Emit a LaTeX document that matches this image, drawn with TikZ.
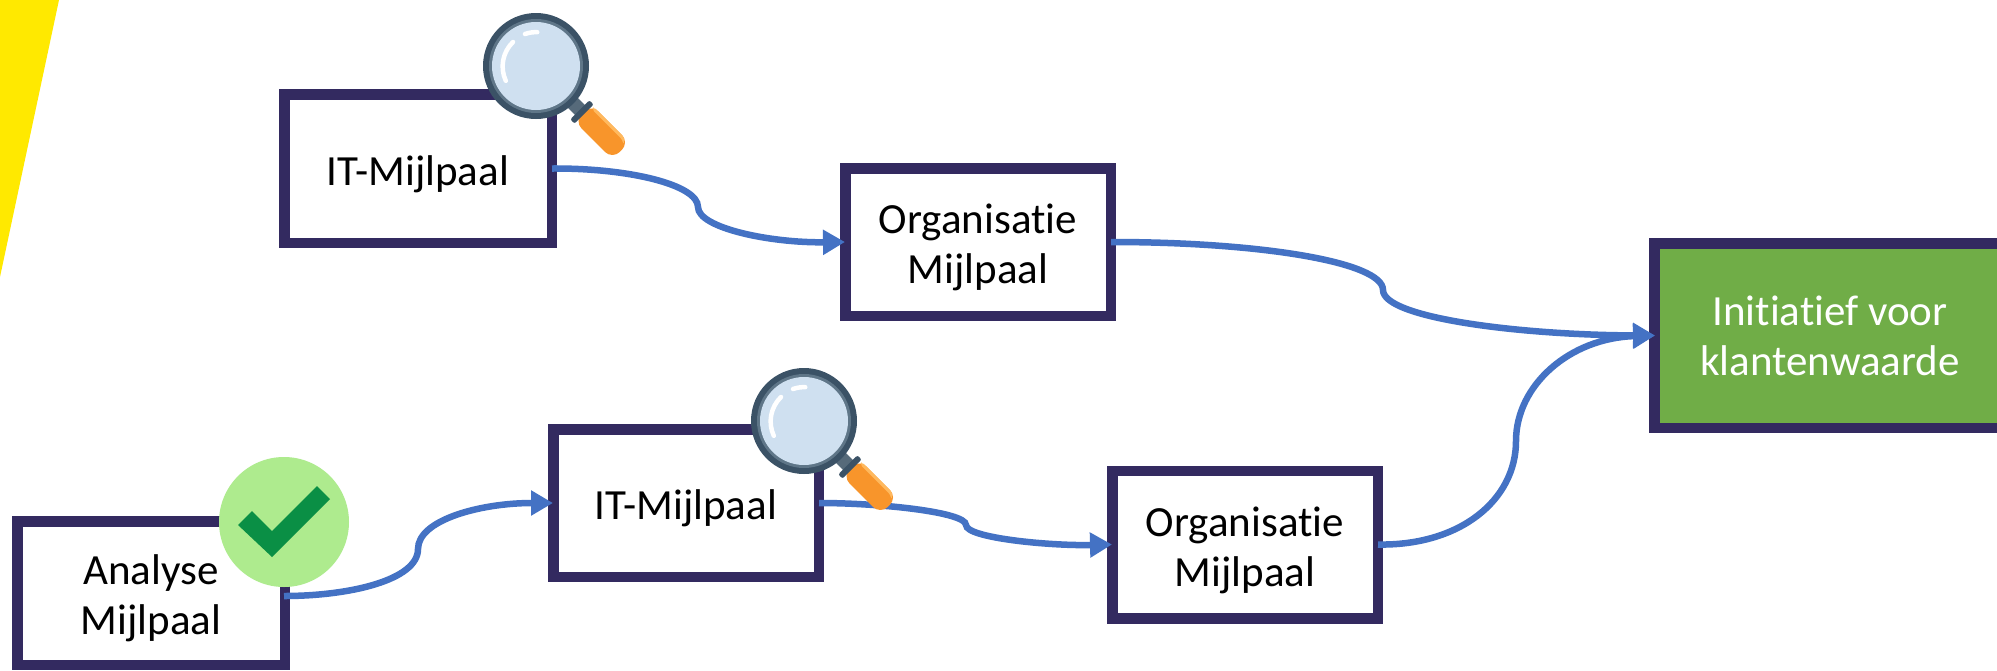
\documentclass[tikz,border=0pt]{standalone}
\usepackage{fontspec}
\setmainfont{Carlito}[Ligatures=NoCommon]
\usetikzlibrary{arrows.meta}
\definecolor{boxline}{HTML}{332A60}
\definecolor{flow}{HTML}{4472C4}
\definecolor{goal}{HTML}{70AD47}
\definecolor{banner}{HTML}{FFE900}
\definecolor{lensring}{HTML}{3B5266}
\definecolor{lensedge}{HTML}{5F7688}
\definecolor{glass}{HTML}{CFE0F0}
\definecolor{grip}{HTML}{F8952B}
\definecolor{griplight}{HTML}{FFB95E}
\definecolor{neck}{HTML}{566A7A}
\definecolor{okfill}{HTML}{AEEB8E}
\definecolor{okmark}{HTML}{0A8F45}
\newcommand{\lead}{\rule{0pt}{41pt}}
\tikzset{
  x=1pt,y=-1pt,
  stonebox/.style={draw=boxline,line width=10.5pt,fill=white,inner sep=0pt,align=center,
    font=\fontsize{43}{50}\selectfont,text=black},
  goalbox/.style={draw=boxline,line width=10.5pt,fill=goal,inner sep=0pt,align=center,
    text=white,font=\fontsize{43}{50}\selectfont},
  link/.style={draw=flow,line width=6.5pt},
  linkhead/.style={link,-{Triangle[length=22pt,width=24pt]}}
}
\newcommand{\lens}[2]{%
  \begin{scope}[shift={(#1,#2)}]
    \begin{scope}[rotate=-45]
      \fill[neck] (48,-7) rectangle (66,7);
      \fill[grip,rounded corners=10.5pt] (66,-12) -- (120,-12) -- (120,12) -- (66,12) -- cycle;
      \fill[griplight,rounded corners=3pt] (70,-12) -- (113,-12) -- (118,-6) -- (113,-9) -- (70,-9) -- cycle;
      \fill[lensring,rounded corners=2pt] (62,-13.5) rectangle (68,13.5);
    \end{scope}
    \fill[lensring] (0,0) circle[radius=53pt];
    \fill[lensedge] (0,0) circle[radius=47pt];
    \fill[glass] (0,0) circle[radius=44pt];
    \draw[white,line width=4.5pt,line cap=round] (-23,-24) arc[start angle=134,end angle=205,radius=34pt];
    \draw[white,line width=4.5pt,line cap=round] (-11,-32) arc[start angle=109,end angle=88,radius=34pt];
  \end{scope}}
\begin{document}
\begin{tikzpicture}
\useasboundingbox (0,0) rectangle (1997,670);
\clip (0,0) rectangle (1997,670);
\fill[white] (0,0) rectangle (1997,670);
\fill[banner] (0,0) -- (59,0) -- (0,277) -- cycle;

\node[stonebox,minimum width=267.5pt,minimum height=148.5pt] (it1) at (418,168.5) {\lead IT-Mijlpaal};
\node[stonebox,minimum width=265.5pt,minimum height=147.5pt] (org1) at (978,242) {\lead Organisatie\\Mijlpaal};
\node[goalbox,minimum width=351.5pt,minimum height=184.5pt] (init) at (1830,335.5) {Initiatief voor\\klantenwaarde};
\node[stonebox,minimum width=267.5pt,minimum height=143.5pt] (ana) at (151,593) {\lead Analyse\\Mijlpaal};
\node[stonebox,minimum width=265.5pt,minimum height=147.5pt] (it2) at (686,503) {\lead IT-Mijlpaal};
\node[stonebox,minimum width=265.5pt,minimum height=147.5pt] (org2) at (1245,544.5) {\lead Organisatie\\Mijlpaal};

\coordinate (k1) at (698,207);
\coordinate (k2) at (1383,290);
\coordinate (k3) at (418,549);
\coordinate (k4) at (966,525);
\coordinate (k5) at (1516,441);

\draw[linkhead] ([xshift=-5pt]it1.east) .. controls (630,168) and (698,185) .. (k1)
  .. controls (698,228) and (770,243) .. ([xshift=5pt]org1.west);
\draw[linkhead] ([xshift=-5pt]org1.east) .. controls (1260,242) and (1383,262) .. (k2)
  .. controls (1383,318) and (1520,335) .. ([xshift=6pt]init.west);
\draw[linkhead] ([xshift=-6pt,yshift=-3pt]ana.east) .. controls (350,596) and (418,580) .. (k3)
  .. controls (418,520) and (480,503) .. ([xshift=5pt]it2.west);
\draw[linkhead] ([xshift=-5pt]it2.east) .. controls (880,503) and (966,512) .. (k4)
  .. controls (966,538) and (1050,546) .. ([xshift=5pt]org2.west);
\draw[linkhead] ([xshift=-5pt]org2.east) .. controls (1460,546) and (1516,500) .. (k5)
  .. controls (1516,385) and (1570,338) .. ([xshift=6pt]init.west);

\lens{536}{66}
\lens{804}{421}

\fill[okfill] (284,522) circle[radius=65pt];
\fill[okmark] (238,525) -- (252,511) -- (272,531) -- (317,486) -- (330,499) -- (272,557) -- cycle;
\end{tikzpicture}
\end{document}
